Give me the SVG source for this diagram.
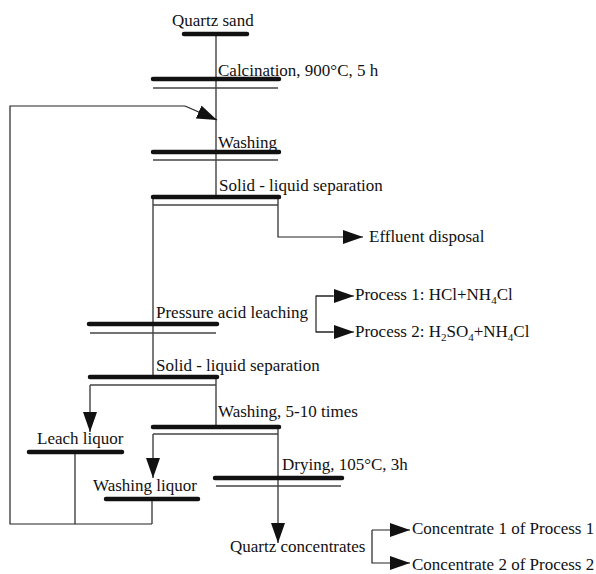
<svg xmlns="http://www.w3.org/2000/svg" width="596" height="574" viewBox="0 0 596 574">
<style>
text{font-family:"Liberation Serif","Times New Roman",serif;font-size:17px;fill:#111}
.bar{stroke:#111;stroke-width:4.5;stroke-linecap:round;fill:none}
.thin{stroke:#444;stroke-width:1.3;fill:none}
.ln{stroke:#222;stroke-width:1.2;fill:none}
.arr{stroke:#222;stroke-width:1.2;fill:none;marker-end:url(#ah)}
</style>
<defs>
<marker id="ah" markerUnits="userSpaceOnUse" markerWidth="21" markerHeight="14" refX="20" refY="7" orient="auto">
<path d="M0,0 L20,7 L0,14 z" fill="#111"/>
</marker>
</defs>
<rect width="596" height="574" fill="#fff"/>
<g id="connectors">
<path class="ln" d="M216,34 V197"/>
<path class="ln" d="M153,197 V377"/>
<path class="arr" d="M278,197 V237 H363"/>
<path class="ln" d="M216,377 V427"/>
<path class="arr" d="M90,385 V432"/>
<path class="arr" d="M153,434 V478"/>
<path class="arr" d="M278,427 V543"/>
<path class="ln" d="M75,452 V524"/>
<path class="ln" d="M152,499 V524"/>
<path class="ln" d="M152,524 H10 V106 H185"/>
<path class="arr" d="M185,106 L217,120"/>
<path class="ln" d="M333,296 H316 V332 H333"/>
<path class="arr" d="M316,296 H354"/>
<path class="arr" d="M316,332 H354"/>
<path class="arr" d="M372,530 H410"/>
<path class="arr" d="M372,530 V563 H410"/>
</g>
<g id="quartz-sand">
<line class="bar" x1="184" y1="34" x2="247" y2="34"/>
<text x="172" y="26">Quartz sand</text>
</g>
<g id="calcination">
<line class="bar" x1="153" y1="79" x2="279" y2="79"/>
<line class="thin" x1="153" y1="88" x2="278" y2="88"/>
<text x="218" y="76">Calcination, 900°C, 5 h</text>
</g>
<g id="washing">
<line class="bar" x1="153" y1="152" x2="279" y2="152"/>
<line class="thin" x1="153" y1="160" x2="278" y2="160"/>
<text x="218" y="148">Washing</text>
</g>
<g id="sep1">
<line class="bar" x1="153" y1="197" x2="279" y2="197"/>
<line class="thin" x1="153" y1="205" x2="278" y2="205"/>
<text x="219" y="191">Solid - liquid separation</text>
</g>
<g id="effluent">
<text x="369" y="242">Effluent disposal</text>
</g>
<g id="leaching">
<line class="bar" x1="89" y1="324" x2="217" y2="324"/>
<line class="thin" x1="90" y1="333" x2="216" y2="333"/>
<text x="156" y="318">Pressure acid leaching</text>
</g>
<g id="process1">
<text x="355" y="300">Process 1: HCl+NH<tspan font-size="11" dy="4">4</tspan><tspan dy="-4">Cl</tspan></text>
</g>
<g id="process2">
<text x="355" y="337">Process 2: H<tspan font-size="11" dy="4">2</tspan><tspan dy="-4">SO</tspan><tspan font-size="11" dy="4">4</tspan><tspan dy="-4">+NH</tspan><tspan font-size="11" dy="4">4</tspan><tspan dy="-4">Cl</tspan></text>
</g>
<g id="sep2">
<line class="bar" x1="90" y1="377" x2="217" y2="377"/>
<line class="thin" x1="90" y1="385" x2="216" y2="385"/>
<text x="156" y="371">Solid - liquid separation</text>
</g>
<g id="washing2">
<line class="bar" x1="153" y1="427" x2="279" y2="427"/>
<line class="thin" x1="153" y1="434" x2="278" y2="434"/>
<text x="218" y="417">Washing, 5-10 times</text>
</g>
<g id="leach-liquor">
<line class="bar" x1="29" y1="452" x2="122" y2="452"/>
<text x="37" y="444">Leach liquor</text>
</g>
<g id="washing-liquor">
<line class="bar" x1="106" y1="499" x2="198" y2="499"/>
<text x="93" y="491">Washing liquor</text>
</g>
<g id="drying">
<line class="bar" x1="215" y1="478" x2="342" y2="478"/>
<line class="thin" x1="216" y1="486" x2="341" y2="486"/>
<text x="282" y="470">Drying, 105°C, 3h</text>
</g>
<g id="quartz-concentrates">
<text x="230" y="552">Quartz concentrates</text>
</g>
<g id="concentrate1">
<text x="412" y="534">Concentrate 1 of Process 1</text>
</g>
<g id="concentrate2">
<text x="412" y="570">Concentrate 2 of Process 2</text>
</g>
</svg>
